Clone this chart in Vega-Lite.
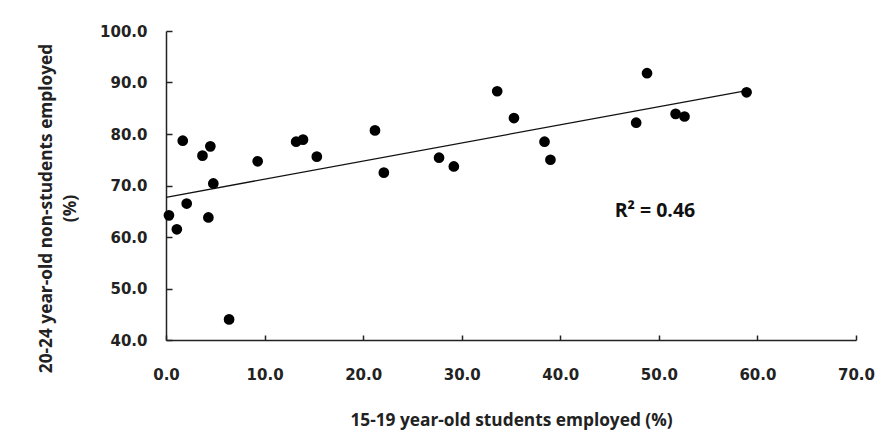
{
  "$schema": "https://vega.github.io/schema/vega-lite/v6.json",
  "width": 690,
  "height": 309,
  "autosize": "none",
  "padding": {"left": 166, "top": 31, "right": 39, "bottom": 96},
  "background": "white",
  "config": {
    "view": {"stroke": null},
    "axis": {
      "grid": false,
      "domainColor": "#222222",
      "domainWidth": 1.5,
      "tickColor": "#222222",
      "tickWidth": 1.5,
      "labelFont": "DejaVu Sans",
      "labelFontWeight": "bold",
      "labelFontSize": 15,
      "labelColor": "#222222",
      "labelFlush": false,
      "labelOverlap": false,
      "titleFont": "Open Sans",
      "titleFontWeight": "bold",
      "titleFontSize": 17.3,
      "titleColor": "#222222"
    }
  },
  "datasets": {
    "points": [
      {"students": 0.3, "nonstudents": 64.2},
      {"students": 1.1, "nonstudents": 61.5},
      {"students": 1.7, "nonstudents": 78.7},
      {"students": 2.1, "nonstudents": 66.5},
      {"students": 3.7, "nonstudents": 75.8},
      {"students": 4.5, "nonstudents": 77.6},
      {"students": 4.3, "nonstudents": 63.8},
      {"students": 4.8, "nonstudents": 70.4},
      {"students": 6.4, "nonstudents": 44.0},
      {"students": 9.3, "nonstudents": 74.7},
      {"students": 13.2, "nonstudents": 78.5},
      {"students": 13.9, "nonstudents": 78.9},
      {"students": 15.3, "nonstudents": 75.6},
      {"students": 21.2, "nonstudents": 80.7},
      {"students": 22.1, "nonstudents": 72.5},
      {"students": 27.7, "nonstudents": 75.4},
      {"students": 29.2, "nonstudents": 73.7},
      {"students": 33.6, "nonstudents": 88.3},
      {"students": 35.3, "nonstudents": 83.1},
      {"students": 38.4, "nonstudents": 78.5},
      {"students": 39.0, "nonstudents": 75.0},
      {"students": 47.7, "nonstudents": 82.2},
      {"students": 48.8, "nonstudents": 91.8},
      {"students": 51.7, "nonstudents": 83.9},
      {"students": 52.6, "nonstudents": 83.4},
      {"students": 58.9, "nonstudents": 88.1}
    ],
    "label": [
      {"students": 49.6, "nonstudents": 65.0, "text": "R² = 0.46"}
    ]
  },
  "layer": [
    {
      "data": {"name": "points"},
      "transform": [
        {"regression": "nonstudents", "on": "students", "extent": [0, 58.9]}
      ],
      "mark": {"type": "line", "color": "#111111", "strokeWidth": 1.3},
      "encoding": {
        "x": {
          "field": "students",
          "type": "quantitative",
          "scale": {"domain": [0, 70], "nice": false},
          "axis": {
            "values": [0, 10, 20, 30, 40, 50, 60, 70],
            "format": ".1f",
            "tickSize": -5,
            "labelPadding": 32,
            "title": "15-19 year-old students employed (%)",
            "titlePadding": 29
          }
        },
        "y": {
          "field": "nonstudents",
          "type": "quantitative",
          "scale": {"domain": [40, 100], "nice": false, "zero": false},
          "axis": {
            "values": [40, 50, 60, 70, 80, 90, 100],
            "format": ".1f",
            "tickSize": -6,
            "labelPadding": 25,
            "title": ["20-24 year-old non-students employed", "(%)"],
            "titleAngle": -90,
            "titleBaseline": "middle",
            "titleAlign": "center",
            "titleLineHeight": 24,
            "titleX": -120,
            "titleY": 177
          }
        }
      }
    },
    {
      "data": {"name": "points"},
      "mark": {"type": "circle", "size": 115, "color": "#000000", "opacity": 1},
      "encoding": {
        "x": {"field": "students", "type": "quantitative"},
        "y": {"field": "nonstudents", "type": "quantitative"}
      }
    },
    {
      "data": {"name": "label"},
      "mark": {"type": "text", "font": "Open Sans", "fontWeight": "bold", "fontSize": 19.5, "color": "#111111", "align": "center", "baseline": "middle"},
      "encoding": {
        "x": {"field": "students", "type": "quantitative"},
        "y": {"field": "nonstudents", "type": "quantitative"},
        "text": {"field": "text"}
      }
    }
  ]
}
